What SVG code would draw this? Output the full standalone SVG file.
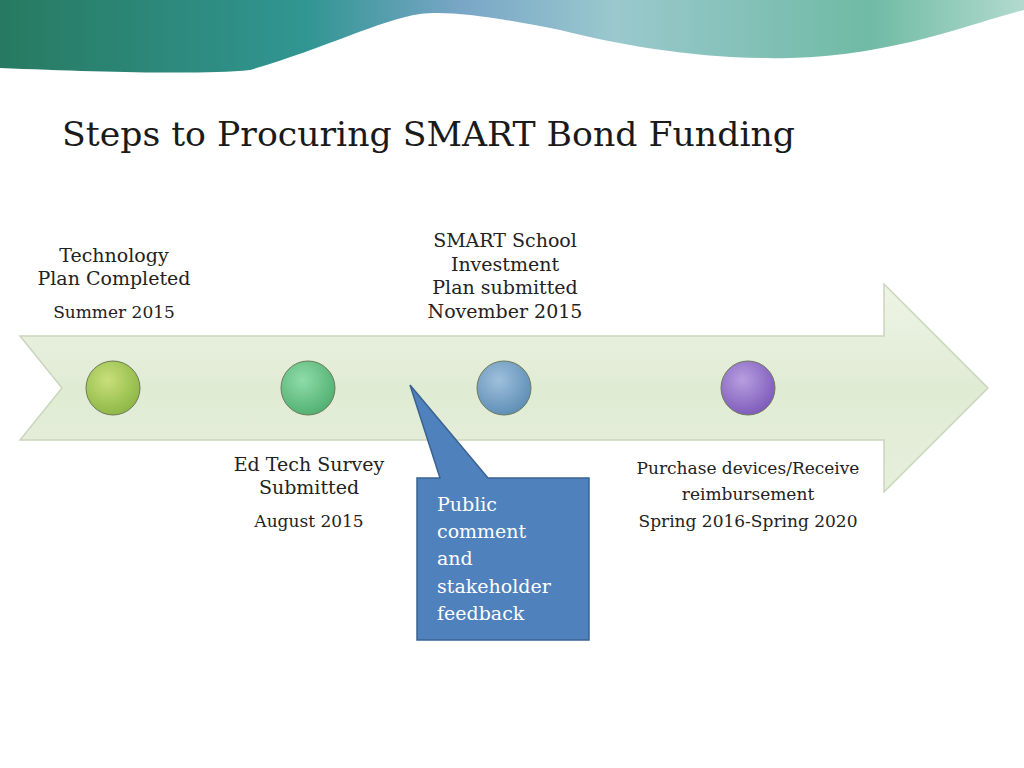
<svg xmlns="http://www.w3.org/2000/svg" width="1024" height="768" viewBox="0 0 1024 768">
<defs>
<linearGradient id="ban" x1="0" y1="0" x2="1" y2="0">
<stop offset="0" stop-color="#0f6b4f"/><stop offset="0.3" stop-color="#1a8a86"/><stop offset="0.45" stop-color="#6a9cc0"/><stop offset="0.6" stop-color="#8fc2c8"/><stop offset="0.85" stop-color="#5fb39a"/><stop offset="1" stop-color="#a9d6c8"/>
</linearGradient>
<linearGradient id="arr" x1="0" y1="0" x2="0" y2="1">
<stop offset="0" stop-color="#eef4e6"/><stop offset="0.5" stop-color="#e0ebd4"/><stop offset="1" stop-color="#e6efdc"/>
</linearGradient>
<radialGradient id="g1" cx="0.4" cy="0.35" r="0.7"><stop offset="0" stop-color="#c8e07a"/><stop offset="1" stop-color="#8bb543"/></radialGradient>
<radialGradient id="g2" cx="0.4" cy="0.35" r="0.7"><stop offset="0" stop-color="#8fdca8"/><stop offset="1" stop-color="#4fae70"/></radialGradient>
<radialGradient id="g3" cx="0.4" cy="0.35" r="0.7"><stop offset="0" stop-color="#9fc0dc"/><stop offset="1" stop-color="#5c8cb4"/></radialGradient>
<radialGradient id="g4" cx="0.4" cy="0.35" r="0.7"><stop offset="0" stop-color="#b79ee0"/><stop offset="1" stop-color="#7c58b8"/></radialGradient>
<style>
.t{font-family:"DejaVu Serif","Liberation Serif",serif;fill:#222;text-anchor:middle}
.c{stroke:#6b7a5a;stroke-width:1}
</style>
</defs>
<rect width="1024" height="768" fill="#fff"/>
<path d="M0 0 H1024 V10 C980 20 900 55 790 58 C700 60 620 45 560 30 C500 18 450 10 420 14 C380 20 320 50 250 70 C200 75 100 72 0 68 Z" fill="url(#ban)" opacity="0.9"/>
<text x="62" y="146" font-family="DejaVu Serif,Liberation Serif,serif" font-size="34" fill="#1a1a1a" textLength="733" lengthAdjust="spacingAndGlyphs">Steps to Procuring SMART Bond Funding</text>
<g id="arrow"><path d="M20 336 H884 V284 L988 388 L884 492 V440 H20 L62 388 Z" fill="url(#arr)" stroke="#c9d6bc" stroke-width="1.5"/></g>
<g id="n1"><circle cx="113" cy="388" r="27" fill="url(#g1)" class="c"/>
<text class="t" font-size="19"><tspan x="114" y="262">Technology</tspan><tspan x="114" y="285">Plan Completed</tspan></text>
<text class="t" x="114" y="318" font-size="17">Summer 2015</text></g>
<g id="n2"><circle cx="308" cy="388" r="27" fill="url(#g2)" class="c"/>
<text class="t" font-size="19"><tspan x="309" y="471">Ed Tech Survey</tspan><tspan x="309" y="494">Submitted</tspan></text>
<text class="t" x="309" y="527" font-size="17">August 2015</text></g>
<g id="n3"><circle cx="504" cy="388" r="27" fill="url(#g3)" class="c"/>
<text class="t" font-size="19"><tspan x="505" y="247">SMART School</tspan><tspan x="505" y="271">Investment</tspan><tspan x="505" y="294">Plan submitted</tspan><tspan x="505" y="318">November 2015</tspan></text></g>
<g id="n4"><circle cx="748" cy="388" r="27" fill="url(#g4)" class="c"/>
<text class="t" font-size="17"><tspan x="748" y="474">Purchase devices/Receive</tspan><tspan x="748" y="500">reimbursement</tspan><tspan x="748" y="527">Spring 2016-Spring 2020</tspan></text></g>
<g id="callout">
<path d="M417 478 H440 L410 385 L488 478 H589 V640 H417 Z" fill="#4f81bd" stroke="#3a6391" stroke-width="1.5"/>
<text font-family="DejaVu Serif,Liberation Serif,serif" font-size="19" fill="#fff"><tspan x="437" y="511">Public</tspan><tspan x="437" y="538">comment</tspan><tspan x="437" y="565">and</tspan><tspan x="437" y="593">stakeholder</tspan><tspan x="437" y="620">feedback</tspan></text></g>
<g id="connectors"/>
</svg>
